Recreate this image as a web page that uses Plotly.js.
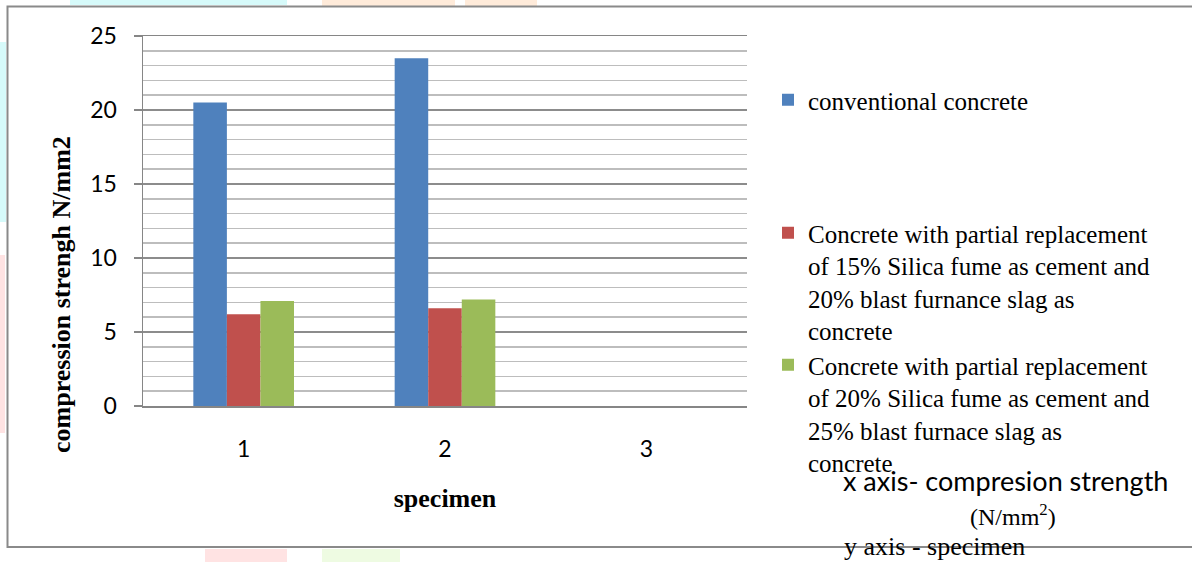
<!DOCTYPE html>
<html>
<head>
<meta charset="utf-8">
<script src="https://cdn.plot.ly/plotly-3.0.1.min.js"></script>
<style>html,body{margin:0;padding:0;background:#fff;}#chart{width:1192px;height:562px;}</style>
</head>
<body>
<div id="chart"></div>
<script>
// ---- data ----
const specimens = ["1", "2", "3"];
const conventional = [20.5, 23.5, null];
const silica15 = [6.2, 6.6, null];
const silica20 = [7.1, 7.2, null];
const seriesNames = [
  "conventional concrete",
  "Concrete with partial replacement<br>of 15% Silica fume as cement and<br>20% blast furnance slag as<br>concrete",
  "Concrete with partial replacement<br>of 20% Silica fume as cement and<br>25% blast furnace slag as<br>concrete"
];
const yTicks = [0, 5, 10, 15, 20, 25];
const yTitle = "compression strengh N/mm2";
const xTitle = "specimen";
const notes = ["x axis- compresion strength", "(N/mm<sup>2</sup>)", "y axis - specimen"];

const colors = ["#4F81BD", "#C0504D", "#9BBB59"];
const serif = "Liberation Serif, Times New Roman, serif";
const sans = "Lato, Open Sans, sans-serif";

const traces = [conventional, silica15, silica20].map((vals, i) => ({
  type: "bar",
  x: specimens,
  y: vals,
  name: seriesNames[i],
  marker: {color: colors[i], line: {width: 0}},
  legend: i === 0 ? "legend" : "legend" + (i + 1),
  showlegend: true,
  hoverinfo: "skip"
}));

// plot area in pixels: x 143..747, y 36..406
const L = 143, R = 747, T = 36, B = 406;
const px = v => (v - L) / (R - L);
const py = v => (B - v) / (B - T);

function pale(x0, x1, y0, y1, c) {
  return {type: "rect", xref: "paper", yref: "paper", layer: "below",
    x0: px(x0), x1: px(x1), y0: py(y0), y1: py(y1),
    fillcolor: c, line: {width: 0}};
}
function legendAt(top) {
  return {
    xref: "container", yref: "container", x: 768 / 1192, y: 1 - top / 562,
    xanchor: "left", yanchor: "top", valign: "top",
    bgcolor: "rgba(0,0,0,0)", borderwidth: 0,
    font: {family: serif, size: 25, color: "#000"}
  };
}

const layout = {
  width: 1192, height: 562,
  margin: {l: L, r: 1192 - R, t: T, b: 562 - B, pad: 0},
  paper_bgcolor: "#ffffff",
  plot_bgcolor: "rgba(0,0,0,0)",
  showlegend: true,
  barmode: "group",
  bargap: 0.5,
  bargroupgap: 0,
  font: {family: serif, color: "#000"},
  xaxis: {
    type: "category",
    range: [-0.5, 2.5],
    showline: true, linecolor: "#868686", linewidth: 1.5, mirror: true,
    ticks: "", ticklabelstandoff: 22,
    tickfont: {family: sans, size: 23, color: "#000"},
    showgrid: false, zeroline: false,
    title: {text: "<b>" + xTitle + "</b>", font: {family: serif, size: 26, color: "#000"}, standoff: 27},
    automargin: false, fixedrange: true
  },
  yaxis: {
    range: [0, 25],
    tickvals: yTicks,
    ticktext: yTicks.map(String),
    showline: true, linecolor: "#868686", linewidth: 1.5,
    ticks: "outside", ticklen: 8, tickcolor: "#868686", tickwidth: 1.5,
    ticklabelstandoff: 12,
    tickfont: {family: sans, size: 23, color: "#000"},
    showgrid: true, gridcolor: "#8c8c8c", gridwidth: 1.5,
    minor: {dtick: 1, showgrid: true, gridcolor: "#bdbdbd", gridwidth: 1.5, ticks: ""},
    zeroline: false,
    automargin: false, fixedrange: true
  },
  legend: legendAt(77),
  legend2: legendAt(210),
  legend3: legendAt(342),
  shapes: [
    pale(70, 287, 0, 5, "#D6FAFA"),
    pale(322, 455, 0, 6, "#FFEBDA"),
    pale(465, 537, 0, 6, "#FFEBDA"),
    pale(0, 6, 42, 222, "#D6FAFA"),
    pale(0, 5, 255, 433, "#FFE3E3"),
    pale(205, 287, 549, 562, "#FFE3E3"),
    pale(322, 400, 549, 562, "#EEFBE2"),
    {type: "rect", xref: "paper", yref: "paper", layer: "above",
      x0: px(7.5), x1: px(1205), y0: py(6.5), y1: py(547),
      fillcolor: "rgba(0,0,0,0)", line: {color: "#8a8a8a", width: 2}}
  ],
  annotations: [
    {xref: "paper", yref: "paper", x: px(61), y: py(295), text: "<b>" + yTitle + "</b>", textangle: -90,
      showarrow: false, font: {family: serif, size: 26, color: "#000"}, xanchor: "center", yanchor: "middle"},
    {xref: "paper", yref: "paper", x: px(1005), y: py(480), text: notes[0], showarrow: false,
      font: {family: sans, size: 27, color: "#000"}, xanchor: "center", yanchor: "middle"},
    {xref: "paper", yref: "paper", x: px(1013), y: py(515), text: notes[1], showarrow: false,
      font: {family: serif, size: 24, color: "#000"}, xanchor: "center", yanchor: "middle"},
    {xref: "paper", yref: "paper", x: px(842), y: py(546), text: notes[2], showarrow: false,
      font: {family: serif, size: 26, color: "#000"}, xanchor: "left", yanchor: "middle"}
  ]
};

Plotly.newPlot("chart", traces, layout, {staticPlot: true, displayModeBar: false});
</script>
</body>
</html>
